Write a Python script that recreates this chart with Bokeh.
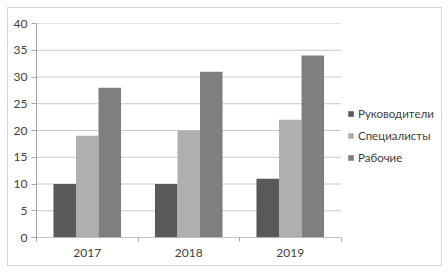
from bokeh.plotting import figure
from bokeh.models import Legend, LegendItem, Range1d, FixedTicker
from bokeh.embed import file_html
from bokeh.resources import INLINE

years = ["2017", "2018", "2019"]
series = ["Руководители", "Специалисты", "Рабочие"]
managers = [10, 10, 11]
specialists = [19, 20, 22]
workers = [28, 31, 34]
y_ticks = [0, 5, 10, 15, 20, 25, 30, 35, 40]
colors = ["#595959", "#afafaf", "#7f7f7f"]

FONT = "Lato"
n = len(years)

p = figure(x_range=Range1d(0, n + 1), y_range=Range1d(0, 40), width=435, height=259,
           output_backend="svg", toolbar_location=None,
           min_border_left=28, min_border_right=1, min_border_top=15, min_border_bottom=30)
p.margin = (7, 0, 0, 7)
p.styles = {"border": "1px solid #d4d4d4", "box-sizing": "border-box"}
p.outline_line_color = None
p.background_fill_color = "white"
p.border_fill_color = "white"
p.xgrid.visible = False
p.ygrid.visible = False

# horizontal gridlines over the category area only
p.segment(x0=[0] * len(y_ticks), x1=[n] * len(y_ticks), y0=y_ticks, y1=y_ticks,
          line_color="#c8c8c8", line_width=1)

centers = [i + 0.5 for i in range(n)]
w = 0.222
rs = []
for off, vals, col in zip([-w, 0, w], [managers, specialists, workers], colors):
    r = p.vbar(x=[c + off for c in centers], top=vals, width=w,
               fill_color=col, line_color=None)
    rs.append(r)

# x axis baseline
p.segment(x0=[0], x1=[n], y0=[0], y1=[0], line_color="#a6a6a6", line_width=1)

p.yaxis.ticker = FixedTicker(ticks=y_ticks)
p.yaxis.axis_line_color = "#a6a6a6"
p.yaxis.major_tick_line_color = "#a6a6a6"
p.yaxis.major_tick_out = 5
p.yaxis.major_tick_in = 0
p.yaxis.minor_tick_line_color = None
p.yaxis.major_label_text_font = FONT
p.yaxis.major_label_text_font_size = "12px"
p.yaxis.major_label_text_color = "#404040"
p.yaxis.major_label_standoff = 4

p.xaxis.ticker = FixedTicker(ticks=centers, minor_ticks=list(range(n + 1)))
p.xaxis.major_label_overrides = {c: y for c, y in zip(centers, years)}
p.xaxis.axis_line_color = None
p.xaxis.major_tick_line_color = None
p.xaxis.minor_tick_line_color = "#a6a6a6"
p.xaxis.minor_tick_out = 4
p.xaxis.minor_tick_in = 0
p.xaxis.major_label_text_font = FONT
p.xaxis.major_label_text_font_size = "12px"
p.xaxis.major_label_text_color = "#404040"
p.xaxis.major_label_standoff = 5

legend = Legend(items=[LegendItem(label=s, renderers=[r]) for s, r in zip(series, rs)],
                location=(311, 73), orientation="vertical",
                glyph_width=7, glyph_height=7, label_standoff=4,
                label_text_font=FONT, label_text_font_size="11.5px",
                label_text_color="#404040", label_height=14, spacing=8,
                padding=0, margin=0, border_line_color=None,
                background_fill_alpha=0)
p.add_layout(legend, "center")

open("out.html", "w").write(file_html(p, INLINE))
